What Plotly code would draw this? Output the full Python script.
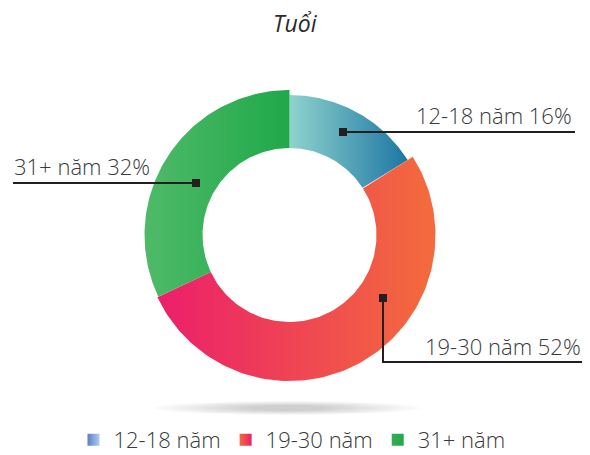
import numpy as np
import plotly.graph_objects as go

# ---- data ----
categories = ["12-18 năm", "19-30 năm", "31+ năm"]
values = [16, 52, 32]
title_text = "Tuổi"

# ---- styles ----
slice_grad = [("#8fd3cd", "#1d76a3"), ("#ec1e6b", "#f36c3c"), ("#4fba69", "#20a84a")]
legend_grad = [("#5a7ec8", "#b0cdee"), ("#f36c3c", "#ec1e6b"), ("#35ad55", "#22a84a")]
r_outer = [140, 146, 145]
r_inner = 87
cx, cy = 289.5, 235
text_color = "#3a3a3a"
line_color = "#231f20"
FONT = "Open Sans"
WEIGHT = 300
OFF = 8  # page body margin offset

fig = go.Figure()

# shadow under the donut
for k in range(12):
    f = k / 11
    hw = 134 - 95 * f
    hh = 7 - 4 * f
    fig.add_shape(type="circle", x0=287 - hw, x1=287 + hw, y0=408 - hh, y1=408 + hh,
                  fillcolor="rgba(0,0,0,0.016)", line=dict(width=0), layer="below")

# donut slices
cum = np.concatenate([[0], np.cumsum(values)]) / sum(values) * 2 * np.pi
for i, cat in enumerate(categories):
    th = np.linspace(cum[i], cum[i + 1], 120)
    R = r_outer[i]
    xo = cx + R * np.sin(th)
    yo = cy - R * np.cos(th)
    xi = cx + r_inner * np.sin(th[::-1])
    yi = cy - r_inner * np.cos(th[::-1])
    xs = np.concatenate([xo, xi, xo[:1]])
    ys = np.concatenate([yo, yi, yo[:1]])
    fig.add_trace(go.Scatter(
        x=xs, y=ys, mode="lines", fill="toself", line=dict(width=0),
        fillgradient=dict(type="horizontal",
                          colorscale=[[0, slice_grad[i][0]], [1, slice_grad[i][1]]]),
        showlegend=False, hoverinfo="skip"))

# legend entries
for i, cat in enumerate(categories):
    fig.add_trace(go.Scatter(
        x=[None], y=[None], mode="markers", name=cat,
        marker=dict(symbol="square", size=12, color=legend_grad[i][0],
                    gradient=dict(type="horizontal", color=legend_grad[i][1]))))

lab_font = dict(family=FONT, size=22, color=text_color, weight=WEIGHT)

# leader lines and labels
labels = [f"{c} {v}%" for c, v in zip(categories, values)]
# 12-18
fig.add_shape(type="line", x0=343, y0=132, x1=575, y1=132, line=dict(color=line_color, width=2))
fig.add_shape(type="rect", x0=339, x1=347, y0=128, y1=136, fillcolor=line_color, line=dict(width=0))
fig.add_annotation(x=574, y=115, text=labels[0], xanchor="right", yanchor="middle", showarrow=False,
                   font=lab_font)
# 31+
fig.add_shape(type="line", x0=13, y0=183, x1=196, y1=183, line=dict(color=line_color, width=2))
fig.add_shape(type="rect", x0=192, x1=200, y0=179, y1=187, fillcolor=line_color, line=dict(width=0))
fig.add_annotation(x=12, y=166, text=labels[2], xanchor="left", yanchor="middle", showarrow=False,
                   font=lab_font)
# 19-30
fig.add_shape(type="path", path="M 383 298 L 383 362 L 583 362", line=dict(color=line_color, width=2))
fig.add_shape(type="rect", x0=379, x1=387, y0=294, y1=302, fillcolor=line_color, line=dict(width=0))
fig.add_annotation(x=583, y=346, text=labels[1], xanchor="right", yanchor="middle", showarrow=False,
                   font=lab_font)

# title
fig.add_annotation(x=295, y=23, text=f"<i>{title_text}</i>", xanchor="center", yanchor="middle",
                   showarrow=False, font=dict(family=FONT, size=23, color="#2a2a2a"))

W, H = 590, 455
fig.update_layout(
    width=W, height=H, margin=dict(l=0, r=0, t=0, b=0),
    paper_bgcolor="white", plot_bgcolor="white",
    xaxis=dict(range=[OFF, W + OFF], visible=False, fixedrange=True),
    yaxis=dict(range=[H + OFF, OFF], visible=False, fixedrange=True),
    showlegend=True,
    legend=dict(orientation="h", x=(292 - OFF) / W, xanchor="center",
                y=1 - (440 - OFF) / H, yanchor="middle",
                font=dict(family=FONT, size=22, color=text_color, weight=WEIGHT),
                bgcolor="rgba(0,0,0,0)"),
    font=dict(family=FONT),
)

fig.write_html("out.html")
